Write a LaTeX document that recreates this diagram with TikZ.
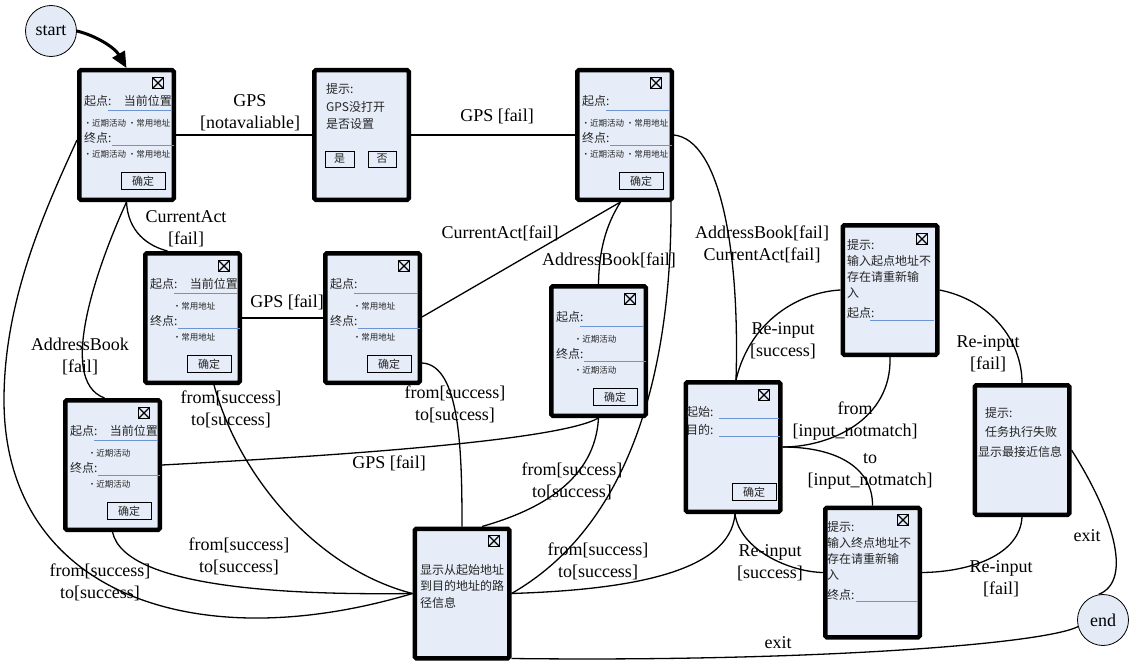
\documentclass[tikz,border=0pt]{standalone}
\usepackage{fontspec}
\setmainfont{Liberation Serif}
\newfontfamily\cjk{Noto Sans CJK SC}
\usetikzlibrary{arrows.meta}
\definecolor{boxblue}{HTML}{E6ECF8}
\definecolor{circblue}{HTML}{E4EBF7}
\definecolor{ulblue}{HTML}{6A95D2}
\pgfdeclarelayer{bg}
\pgfsetlayers{bg,main}
\tikzset{
 scrbox/.style={draw, line width=4.5pt, fill=boxblue, rounded corners=1.5pt, minimum width=94.5pt, minimum height=129.5pt, inner sep=0pt},
 closeic/.style={draw, line width=1.3pt, minimum size=11pt, inner sep=0pt, outer sep=0pt},
 cn/.style={font=\cjk\fontsize{12}{14}\selectfont, inner sep=0pt, text=black!85},
 bul/.style={font=\cjk\fontsize{8.5}{10}\selectfont, inner sep=0pt, text=black!85},
 btn/.style={draw, line width=0.8pt, minimum width=44pt, minimum height=17pt, inner sep=0pt, font=\cjk\fontsize{11}{12}\selectfont, text=black!85},
 uline/.style={draw=ulblue, line width=0.9pt},
 conn/.style={line width=1.3pt},
 lab/.style={font=\fontsize{18}{22}\selectfont, align=center, inner sep=0pt},
 circ/.style={circle, draw, line width=0.8pt, fill=circblue, minimum size=51pt, inner sep=0pt, font=\fontsize{18}{20}\selectfont},
}
\newcommand\closeicon[3]{\node[closeic] (#1) at (#2,#3) {};
 \draw[line width=1.1pt] (#1.north west) -- (#1.south east) (#1.north east) -- (#1.south west);}
\newcommand\formscr[6]{%
 \node[scrbox] (#1) at (#2+49.5,#3+67) {};
 \begin{scope}[shift={(#2,#3)}]
  \closeicon{#1x}{81}{15}
  \node[cn,anchor=west] (#1s) at (7,33) {起点:};
  \node[cn,anchor=east] (#1c) at (95,33) {#4};
  \draw[uline] (31,42) -- (95,42);
  \node[bul] (#1b) at (#5,55) {#6};
  \node[cn,anchor=west] (#1e) at (7,70) {终点:};
  \draw[uline] (35,77) -- (97,77);
  \node[bul] (#1d) at (#5,86) {#6};
  \node[btn] (#1ok) at (66,113) {确定};
 \end{scope}}
\begin{document}
\begin{tikzpicture}[x=1pt,y=-1pt]
\useasboundingbox (0,0) rectangle (1133,661);
% screens
\formscr{A}{77}{68}{当前位置}{50}{•近期活动\ •常用地址}
\formscr{C}{575}{68}{}{50}{•近期活动\ •常用地址}
\formscr{D}{143}{251}{当前位置}{51}{•常用地址}
\formscr{E}{323}{251}{}{51}{•常用地址}
\formscr{F}{549}{284}{}{46}{•近期活动}
\formscr{G}{63}{398}{当前位置}{46}{•近期活动}
% B prompt
\node[scrbox] (B) at (361.5,135) {};
\node[cn,anchor=west] (B1) at (326,89) {提示:};
\node[cn,anchor=west] (B2) at (326,107) {GPS没打开};
\node[cn,anchor=west] (B3) at (326,124) {是否设置};
\node[btn,minimum width=29pt,minimum height=16pt] (Byes) at (339.5,159) {是};
\node[btn,minimum width=28pt,minimum height=16pt] (Bno) at (382,159) {否};
% H result
\node[scrbox] (H) at (462,593.5) {};
\closeicon{Hx}{494}{541}
\node[cn,anchor=west] (H1) at (420,570) {显示从起始地址};
\node[cn,anchor=west] (H2) at (420,586) {到目的地址的路};
\node[cn,anchor=west] (H3) at (420,603) {径信息};
% I input
\node[scrbox] (I) at (733,447) {};
\closeicon{Ix}{764}{395}
\node[cn,anchor=west] (I1) at (686,412) {起始:};
\draw[uline] (719,418) -- (779,418);
\node[cn,anchor=west] (I2) at (686,430) {目的:};
\draw[uline] (719,436) -- (780,436);
\node[btn] (Iok) at (754,492) {确定};
% J
\node[scrbox] (J) at (890,290) {};
\closeicon{Jx}{922}{239}
\node[cn,anchor=west] (J1) at (847,245) {提示:};
\node[cn,anchor=west] (J2) at (847,261) {输入起点地址不};
\node[cn,anchor=west] (J3) at (847,277) {存在请重新输};
\node[cn,anchor=west] (J4) at (847,293) {入};
\node[cn,anchor=west] (J5) at (847,313) {起点:};
\draw[uline] (870,320) -- (934,320);
% K
\node[scrbox] (K) at (872.5,572.5) {};
\closeicon{Kx}{903}{520}
\node[cn,anchor=west] (K1) at (827,527) {提示:};
\node[cn,anchor=west] (K2) at (827,543) {输入终点地址不};
\node[cn,anchor=west] (K3) at (827,559) {存在请重新输};
\node[cn,anchor=west] (K4) at (827,575) {入};
\node[cn,anchor=west] (K5) at (827,595) {终点:};
\draw[uline] (856,601) -- (918,601);
% L
\node[scrbox] (L) at (1022,450) {};
\node[cn,anchor=west] (L1) at (985,413) {提示:};
\node[cn,anchor=west] (L2) at (985,432) {任务执行失败};
\node[cn] (L3) at (1020,452) {显示最接近信息};
% start / end
\node[circ] (start) at (51,31) {start};
\node[circ] (end) at (1103,620) {end};
% connectors
\begin{pgfonlayer}{bg}
\fill[white] (0,0) rectangle (1133,661);
\draw[conn] (A.east) -- (B.west);
\draw[conn] (B.east) -- (C.west);
\draw[conn] (A.south) .. controls (128,232) and (148,246) .. ([xshift=-25pt]D.north);
\draw[conn] (A.south) .. controls (100,260) and (55,380) .. ([xshift=-8pt]G.north);
\draw[conn] ([yshift=-5pt]A.west) .. controls (45,210) and (4,300) .. (4,400) .. controls (4,590) and (190,660) .. (H.west);
\draw[conn] (G.south) .. controls (125,590) and (300,595) .. (H.west);
\draw[conn] ([xshift=21.5pt]D.south) .. controls (240,480) and (320,570) .. (H.west);
\draw[conn] (D.east) -- (E.west);
\draw[conn] ([yshift=-45pt]E.east) .. controls (460,365) and (462,450) .. (H.north);
\draw[conn] ([yshift=1pt]E.east) -- ([xshift=-4pt]C.south);
\draw[conn] ([xshift=-4pt]C.south) .. controls (606,225) and (599,250) .. (F.north);
\draw[conn] ([xshift=-3pt]C.south east) .. controls (672,350) and (640,520) .. (H.east);
\draw[conn] (C.east) .. controls (720,140) and (740,250) .. ([xshift=3pt]I.north);
\draw[conn] (G.east) .. controls (350,455) and (560,440) .. (F.south);
\draw[conn] (F.south) .. controls (595,480) and (540,510) .. ([xshift=20pt]H.north);
\draw[conn] ([xshift=2pt]I.south) .. controls (730,575) and (620,590) .. (H.east);
\draw[conn] ([xshift=3pt]I.north) .. controls (750,320) and (800,292) .. (J.west);
\draw[conn] (J.south) .. controls (892,420) and (830,447) .. (I.east);
\draw[conn] (I.east) .. controls (840,447) and (873,470) .. (K.north);
\draw[conn] ([xshift=2pt]I.south) .. controls (740,550) and (790,572) .. (K.west);
\draw[conn] (J.east) .. controls (990,300) and (1022,340) .. (L.north);
\draw[conn] (L.south) .. controls (1020,555) and (970,572) .. (K.east);
\draw[conn] (L.east) .. controls (1110,510) and (1135,580) .. (end.100);
\draw[conn] (end.195) .. controls (1040,645) and (800,662) .. ([yshift=2pt]H.south east);
\end{pgfonlayer}
\draw[line width=3pt, -{Triangle[length=16pt,width=14pt]}] (start.east) .. controls (97,36) and (115,48) .. (A.north);
% labels
\node[lab] (l1) at (250,113) {GPS\\{}[notavaliable]};
\node[lab] (l2) at (497,116) {GPS [fail]};
\node[lab] (l3) at (186,229) {CurrentAct\\{}[fail]};
\node[lab] (l4) at (80,356) {AddressBook\\{}[fail]};
\node[lab] (l5) at (287,302) {GPS [fail]};
\node[lab] (l6) at (231,409) {from[success]\\to[success]};
\node[lab] (l7) at (455,404) {from[success]\\to[success]};
\node[lab] (l8) at (500,233) {CurrentAct[fail]};
\node[lab] (l9) at (609,260) {AddressBook[fail]};
\node[lab] (l10) at (762,244) {AddressBook[fail]\\CurrentAct[fail]};
\node[lab] (l11) at (389,463) {GPS [fail]};
\node[lab] (l12) at (572,481) {from[success]\\to[success]};
\node[lab] (l13) at (239,556) {from[success]\\to[success]};
\node[lab] (l14) at (100,582) {from[success]\\to[success]};
\node[lab] (l15) at (598,561) {from[success]\\to[success]};
\node[lab] (l16) at (783,341) {Re-input\\{}[success]};
\node[lab] (l17) at (855,421) {from\\{}[input\_notmatch]};
\node[lab] (l18) at (870,471) {to\\{}[input\_notmatch]};
\node[lab] (l19) at (770,563) {Re-input\\{}[success]};
\node[lab] (l20) at (988,354) {Re-input\\{}[fail]};
\node[lab] (l21) at (1001,579) {Re-input\\{}[fail]};
\node[lab] (l22) at (1087,536) {exit};
\node[lab] (l23) at (778,643) {exit};
\end{tikzpicture}
\end{document}
